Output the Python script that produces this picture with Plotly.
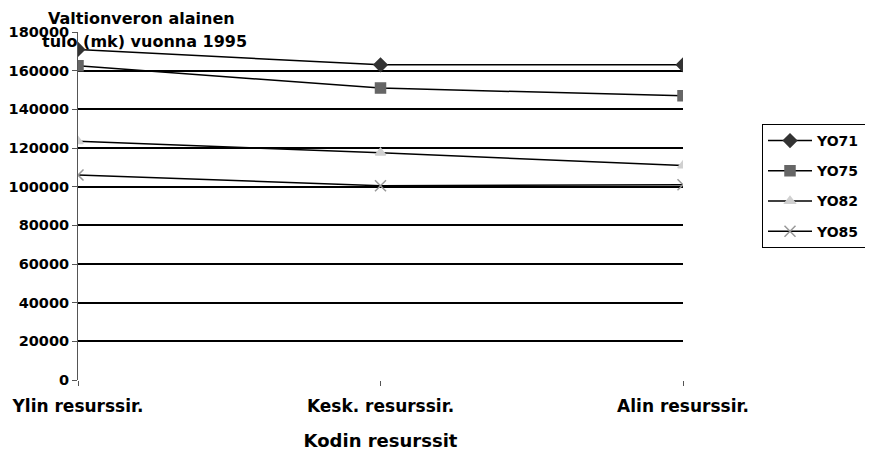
import plotly.graph_objects as go

categories = ["Ylin resurssir.", "Kesk. resurssir.", "Alin resurssir."]
series_names = ["YO71", "YO75", "YO82", "YO85"]
yo71 = [171000, 163000, 163000]
yo75 = [162500, 151000, 147000]
yo82 = [123500, 117500, 111000]
yo85 = [106000, 100500, 101000]
y_ticks = [0, 20000, 40000, 60000, 80000, 100000, 120000, 140000, 160000, 180000]

values = [yo71, yo75, yo82, yo85]
symbols = ["diamond", "square", "triangle-up", "x-thin"]
mcolors = ["#333333", "#666666", "#d0d0d0", "#999999"]
msizes = [10, 10, 9, 11]

# page body has an 8px margin; figure is sized/placed so the plot lands on target pixels
OFF = 8
W, H = 873 - OFF, 455 - OFF
PL, PR, PT, PB = 78, 683, 32, 380          # plot area in page pixels
L, T = PL - OFF, PT - OFF
R, B = W - (PR - OFF), H - (PB - OFF)
PW, PH = W - L - R, H - T - B
FONT = "DejaVu Sans, Verdana, sans-serif"


def px(x):
    return (x - PL) / PW


def py(y):
    return (PB - y) / PH


fig = go.Figure()
for name, vals, sym, col, sz in zip(series_names, values, symbols, mcolors, msizes):
    fig.add_trace(go.Scatter(
        x=[0, 1, 2], y=vals, name=name, mode="lines+markers", legendgroup=name,
        line=dict(color="black", width=1.5),
        marker=dict(symbol=sym, size=sz, color=col,
                    line=dict(color=col, width=1.5)),
    ))

fig.update_layout(
    width=W, height=H,
    margin=dict(l=L, r=R, t=T, b=B, autoexpand=False),
    paper_bgcolor="white", plot_bgcolor="white",
    font=dict(family=FONT, color="black"),
    showlegend=True,
    legend=dict(
        xref="container", x=(762 - OFF) / W, y=py(124),
        xanchor="left", yanchor="top",
        bordercolor="black", borderwidth=1, bgcolor="white",
        font=dict(size=14, family=FONT, weight="bold"),
        itemwidth=44, tracegroupgap=9,
    ),
    xaxis=dict(
        range=[0, 2], tickmode="array", tickvals=[0, 1, 2], ticktext=categories,
        showgrid=False, zeroline=False, showline=False, automargin=False,
        ticks="outside", ticklen=5, tickcolor="#555", ticklabelstandoff=6,
        tickfont=dict(size=17, weight="bold"),
        title=dict(text="Kodin resurssit", font=dict(size=18, weight="bold"), standoff=18),
    ),
    yaxis=dict(
        range=[0, 180000], tickmode="array", tickvals=y_ticks,
        ticktext=[str(v) for v in y_ticks], automargin=False,
        showgrid=True, gridcolor="black", gridwidth=1.5,
        zeroline=False, showline=True, linecolor="#555", linewidth=1,
        ticks="outside", ticklen=5, tickcolor="#555",
        tickfont=dict(size=14.5, weight="bold"),
    ),
    annotations=[
        dict(text="Valtionveron alainen", xref="paper", yref="paper",
             x=px(46), y=py(18), xanchor="left", yanchor="middle", showarrow=False,
             font=dict(size=16, weight="bold")),
        dict(text="tulo (mk) vuonna 1995", xref="paper", yref="paper",
             x=px(40), y=py(41), xanchor="left", yanchor="middle", showarrow=False,
             font=dict(size=16, weight="bold")),
    ],
)

fig.write_html("out.html")
